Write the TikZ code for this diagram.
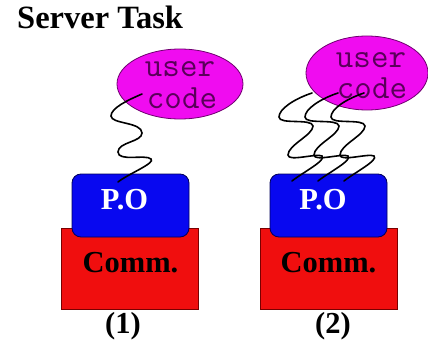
\documentclass[tikz,border=0pt]{standalone}
\usepackage{fontspec}
\setmainfont{Liberation Serif}
\usetikzlibrary{shapes.geometric,calc}

\definecolor{ucfill}{RGB}{240,12,240}
\definecolor{ucline}{RGB}{110,0,110}
\definecolor{uctext}{RGB}{90,0,90}
\definecolor{pofill}{RGB}{8,8,240}
\definecolor{poline}{RGB}{0,0,90}
\definecolor{cmfill}{RGB}{240,14,14}
\definecolor{cmline}{RGB}{120,0,0}

\tikzset{
  usercode/.style={ellipse, draw=ucline, fill=ucfill, line width=0.8pt, inner sep=0pt},
  uctxt/.style={font=\ttfamily\fontsize{34}{31}\selectfont, text=uctext, inner sep=0pt, anchor=base},
  pobox/.style={rectangle, rounded corners=9pt, draw=poline, fill=pofill, line width=0.8pt,
                minimum width=117pt, minimum height=63pt, inner sep=0pt},
  commbox/.style={rectangle, draw=cmline, fill=cmfill, line width=0.8pt,
                  minimum width=137pt, minimum height=81pt, inner sep=0pt},
  bold30/.style={font=\bfseries\fontsize{30.5}{30}\selectfont, inner sep=0pt, anchor=base},
  wire/.style={draw=black, line width=1.6pt, line cap=round},
  % single coiled link, drawn from its lower end upwards
  coilone/.pic={
    \draw[wire] (0,0) .. controls (10,-8) and (38,-19) .. (33,-23)
      .. controls (28,-28) and (0,-20) .. (0,-30)
      .. controls (0,-40) and (24,-40) .. (24,-49)
      .. controls (24,-60) and (-7,-58) .. (-7,-66)
      .. controls (-7,-74) and (10,-82) .. (24,-88);
  },
  % wider coiled link used three times side by side
  coiltwo/.pic={
    \draw[wire] (0,0) .. controls (10,-8) and (35,-21) .. (30,-25)
      .. controls (25,-28) and (-4,-19) .. (-4,-26)
      .. controls (-4,-36) and (21,-46) .. (21,-55)
      .. controls (20,-63) and (-13,-56) .. (-13,-64)
      .. controls (-13,-72) and (2,-82) .. (20,-88);
  }
}

\begin{document}
\begin{tikzpicture}[x=1pt, y=-1pt]
  \useasboundingbox (0,0) rectangle (428,345);

  % title
  \node[bold30, font=\bfseries\fontsize{32.5}{32}\selectfont, anchor=base west] (title) at (17,29) {Server Task};

  % ---------- configuration (1) ----------
  \node[usercode, minimum width=126pt, minimum height=70pt] (uc1) at (180,84) {};
  \node[commbox] (cm1) at (129.5,268.5) {};
  \node[pobox] (po1) at (130.5,205.5) {};
  \node[uctxt] (uc1a) at (180,77) {user};
  \node[uctxt] (uc1b) at (182,108) {code};
  \node[bold30, text=white] (po1t) at (124.5,209) {P.O};
  \node[bold30] (cm1t) at (130.5,272) {Comm.};
  \node[bold30] (lab1) at (123,333) {(1)};
  \coordinate (w1) at ($(po1.center)+(-12.5,-23.5)$);
  \pic at (w1) {coilone};

  % ---------- configuration (2) ----------
  \node[usercode, minimum width=122pt, minimum height=74pt] (uc2) at (367,73) {};
  \node[commbox] (cm2) at (328.5,269) {};
  \node[pobox] (po2) at (328.5,205.5) {};
  \node[uctxt] (uc2a) at (371,67) {user};
  \node[uctxt] (uc2b) at (372,98) {code};
  \node[bold30, text=white] (po2t) at (323,209) {P.O};
  \node[bold30] (cm2t) at (328.5,272) {Comm.};
  \node[bold30] (lab2) at (333,333) {(2)};
  \coordinate (w2a) at ($(po2.center)+(-36.5,-24.5)$);
  \coordinate (w2b) at ($(po2.center)+(-10.5,-24.5)$);
  \coordinate (w2c) at ($(po2.center)+(15.5,-24.5)$);
  \pic at (w2a) {coiltwo};
  \pic at (w2b) {coiltwo};
  \pic at (w2c) {coiltwo};
\end{tikzpicture}
\end{document}
